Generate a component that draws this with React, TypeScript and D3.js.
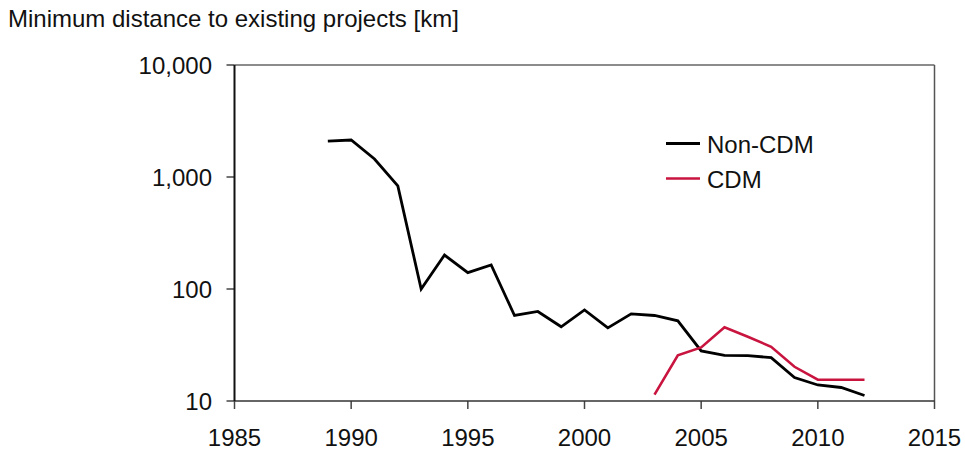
import React from "react";
import * as d3 from "d3";

const years = d3.range(1989, 2013);
const nonCdmValues = [2095, 2140, 1449, 832, 100, 201, 140, 164, 58, 63, 46, 65, 45, 60, 58, 52, 28, 25.6, 25.4, 24.4, 16.2, 13.9, 13.2, 11.2];
const cdmYears = d3.range(2003, 2013);
const cdmValues = [11.4, 25.6, 30.1, 45.5, 37.5, 30.5, 20.2, 15.5, 15.5, 15.5];
const xTicks = [1985, 1990, 1995, 2000, 2005, 2010, 2015];
const yTicks = [10, 100, 1000, 10000];
const seriesNames = ["Non-CDM", "CDM"];
const colors = ["#000000", "#c8143f"];

const W = 965, H = 453;
const left = 234.5, right = 934.5, top = 65, bottom = 401;
const FS = 24;

export default function App() {
  const x = d3.scaleLinear().domain([1985, 2015]).range([left, right]);
  const y = d3.scaleLog().domain([10, 10000]).range([bottom, top]);
  const fmt = d3.format(",");
  const line = d3.line<[number, number]>().x(d => x(d[0])).y(d => y(d[1]));
  const nonPts = years.map((yr, i) => [yr, nonCdmValues[i]] as [number, number]);
  const cdmPts = cdmYears.map((yr, i) => [yr, cdmValues[i]] as [number, number]);
  const font = "'Liberation Sans', Arial, Helvetica, sans-serif";

  return (
    <svg width={W} height={H} style={{ position: "absolute", left: 0, top: 0 }} fontFamily={font}>
      <rect width={W} height={H} fill="#fff" />
      <text x={8} y={27} fontSize={FS} fill="#111">Minimum distance to existing projects [km]</text>
      {/* frame */}
      <line x1={left} x2={right} y1={top} y2={top} stroke="#666" strokeWidth={1.5} />
      <line x1={right} x2={right} y1={top} y2={bottom} stroke="#555" strokeWidth={1.5} />
      {/* y ticks */}
      {yTicks.map(t => (
        <g key={t}>
          <line x1={left - 8} x2={left} y1={y(t)} y2={y(t)} stroke="#444" strokeWidth={1.5} />
          <text x={212} y={y(t)} dy="0.36em" textAnchor="end" fontSize={FS} fill="#111">{fmt(t)}</text>
        </g>
      ))}
      {/* x ticks */}
      {xTicks.map(t => (
        <g key={t}>
          <line x1={x(t)} x2={x(t)} y1={bottom} y2={bottom + 8} stroke="#444" strokeWidth={1.5} />
          <text x={x(t)} y={446} textAnchor="middle" fontSize={FS} fill="#111">{t}</text>
        </g>
      ))}
      <line x1={left} x2={right} y1={bottom} y2={bottom} stroke="#333" strokeWidth={1.5} />
      <line x1={left} x2={left} y1={top} y2={bottom} stroke="#111" strokeWidth={2} />
      {/* data */}
      <path d={line(nonPts) || ""} fill="none" stroke={colors[0]} strokeWidth={2.8} strokeLinejoin="miter" />
      <path d={line(cdmPts) || ""} fill="none" stroke={colors[1]} strokeWidth={2.6} strokeLinejoin="miter" />
      {/* legend */}
      {seriesNames.map((n, i) => (
        <g key={n}>
          <line x1={666} x2={700} y1={143.5 + i * 35} y2={143.5 + i * 35} stroke={colors[i]} strokeWidth={i === 0 ? 3 : 2.5} />
          <text x={707} y={152.5 + i * 35} fontSize={FS} fill="#111">{n}</text>
        </g>
      ))}
    </svg>
  );
}
